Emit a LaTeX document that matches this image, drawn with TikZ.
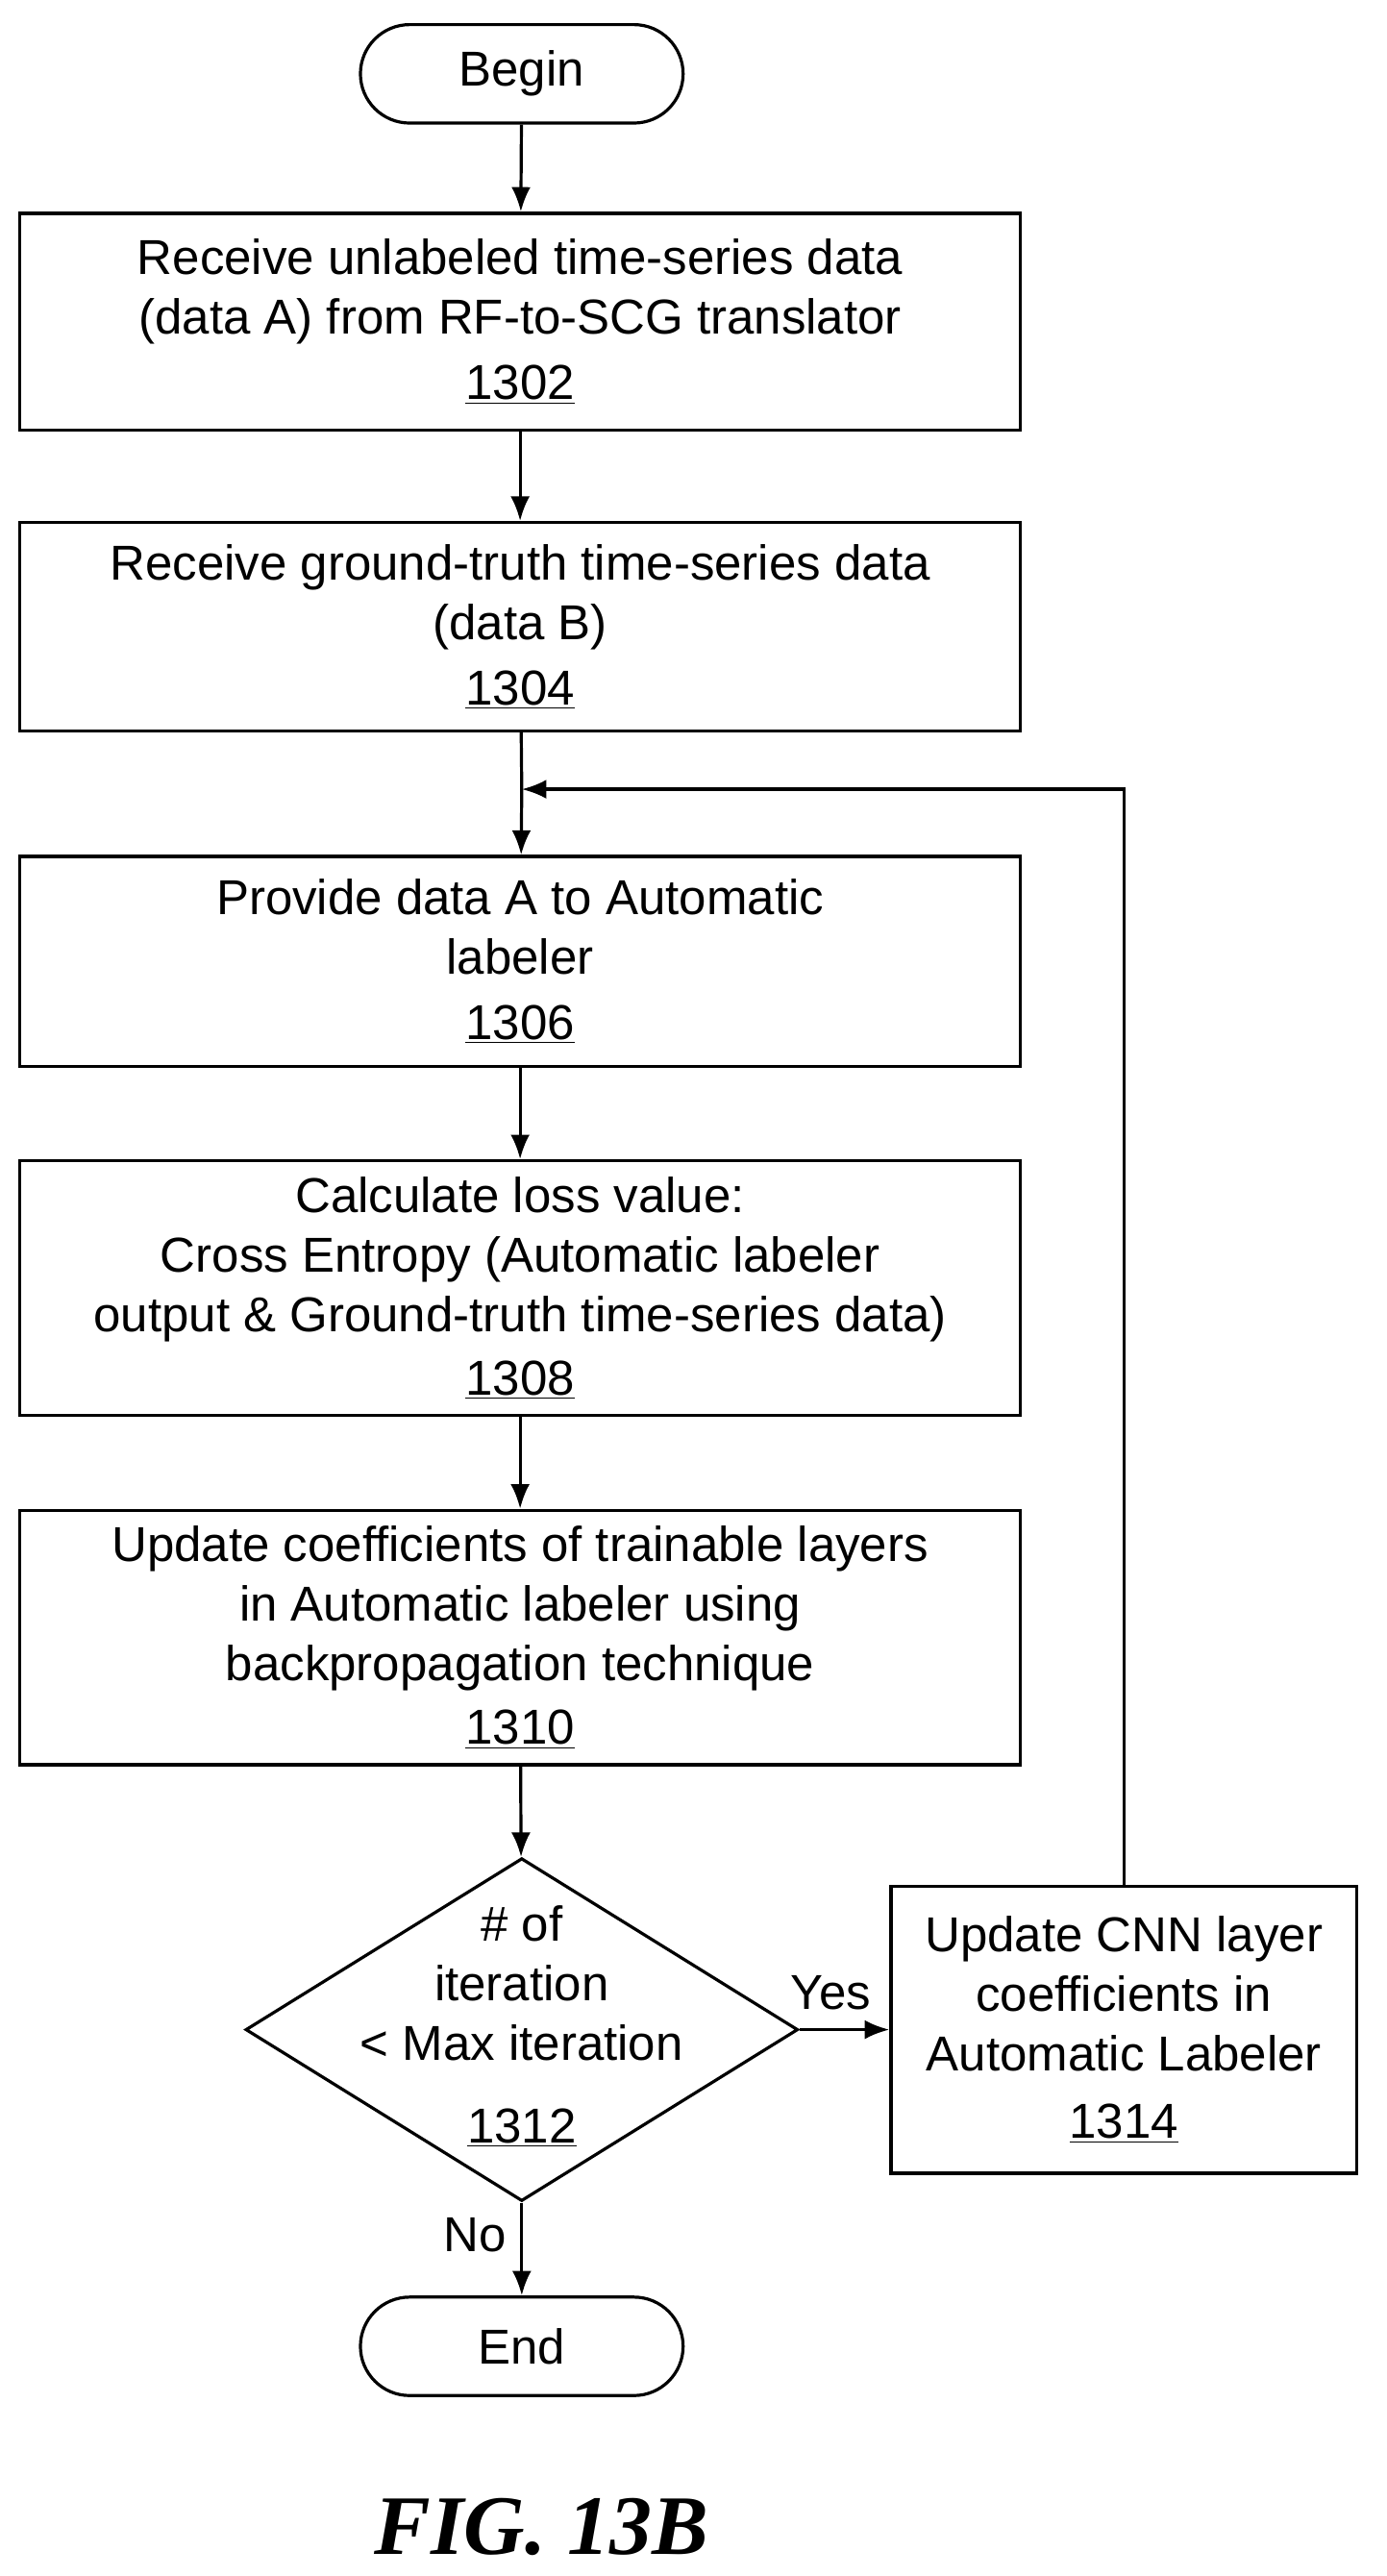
\documentclass[tikz,border=0pt]{standalone}
\usepackage{fontspec}
\setmainfont{Liberation Sans}
\newfontfamily\figfont{Liberation Serif}
\usetikzlibrary{shapes.geometric,arrows.meta}
\tikzset{
  procbox/.style={draw,line width=1.6pt,align=center,minimum width=18.3cm,font=\fontsize{25.5}{31}\selectfont},
  term/.style={draw,line width=1.6pt,rounded corners=0.9cm,minimum width=5.9cm,minimum height=1.8cm,font=\fontsize{25.5}{31}\selectfont},
  flow/.style={line width=1.6pt,-{Latex[length=0.45cm,width=0.35cm]}}
}
\begin{document}
\begin{tikzpicture}[x=0.03cm,y=-0.03cm]
  \useasboundingbox (0,0) rectangle (845,1570);
  \node[term] (begin) at (318,45) {Begin};
  \node[procbox,minimum height=3.96cm] (1302) at (317,196) {Receive unlabeled time-series data\\(data A) from RF-to-SCG translator\\[3pt]\underline{1302}};
  \node[procbox,minimum height=3.81cm] (1304) at (317,382) {Receive ground-truth time-series data\\(data B)\\[3pt]\underline{1304}};
  \node[procbox,minimum height=3.84cm] (1306) at (317,586) {Provide data A to Automatic\\labeler\\[3pt]\underline{1306}};
  \node[procbox,minimum height=4.65cm] (1308) at (317,785) {Calculate loss value:\\Cross Entropy (Automatic labeler\\output \& Ground-truth time-series data)\\[2pt]\underline{1308}};
  \node[procbox,minimum height=4.65cm] (1310) at (317,998) {Update coefficients of trainable layers\\in Automatic labeler using\\backpropagation technique\\[2pt]\underline{1310}};
  \node[draw,line width=1.6pt,diamond,aspect=1.61,inner sep=0pt,minimum width=10.1cm,minimum height=6.27cm] (1312) at (318,1237) {};
  \node[align=center,font=\fontsize{25.5}{31}\selectfont] (t1312) at (318,1235) {\# of\\iteration\\< Max iteration\\[12pt]\underline{1312}};
  \node[draw,line width=1.6pt,align=center,minimum width=8.52cm,minimum height=5.25cm,font=\fontsize{25.5}{31}\selectfont] (1314) at (685,1237) {Update CNN layer\\coefficients in\\Automatic Labeler\\[4pt]\underline{1314}};
  \node[term] (end) at (318,1430) {End};
  \node[font=\figfont\bfseries\itshape\fontsize{44}{50}\selectfont] (fig) at (330,1540) {FIG. 13B};
  \coordinate (loop) at (318,481);
  \coordinate (turn) at (685,481);
  \draw[flow] (begin) -- (1302);
  \draw[flow] (1302) -- (1304);
  \draw[line width=1.6pt] (1304) -- (loop);
  \draw[flow] (loop) -- (1306);
  \draw[flow] (1306) -- (1308);
  \draw[flow] (1308) -- (1310);
  \draw[flow] (1310) -- (1312);
  \draw[flow] (1312.east) -- node[above=6pt,pos=0.35,font=\fontsize{25.5}{31}\selectfont]{Yes} (1314);
  \draw[flow] (1314) -- (turn) -- (loop);
  \draw[flow] (1312.south) -- node[left=4pt,pos=0.35,font=\fontsize{25.5}{31}\selectfont]{No} (end);
\end{tikzpicture}
\end{document}
